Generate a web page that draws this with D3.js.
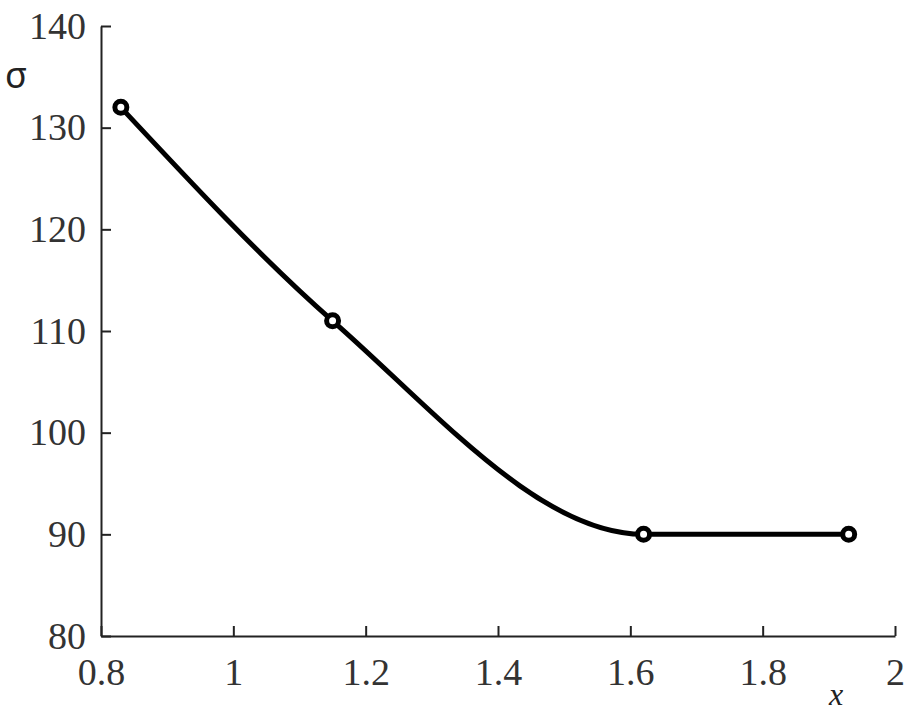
<!DOCTYPE html>
<html>
<head>
<meta charset="utf-8">
<script src="https://cdn.jsdelivr.net/npm/d3@7"></script>
<style>
  body { margin: 0; background: #fff; }
  .domain, .tick line { stroke: #222; stroke-width: 2px; }
</style>
</head>
<body>
<div id="chart"></div>
<script>
const xValues = [0.83, 1.15, 1.62, 1.93];
const sigmaValues = [132, 111, 90, 90];
const xTicks = [0.8, 1, 1.2, 1.4, 1.6, 1.8, 2];
const yTicks = [80, 90, 100, 110, 120, 130, 140];

const width = 917, height = 724;
const margin = { top: 26, right: 22, bottom: 88, left: 101 };
const serif = "'Liberation Serif', 'Times New Roman', Times, serif";

const svg = d3.select("#chart").append("svg")
  .attr("width", width)
  .attr("height", height);

const x = d3.scaleLinear().domain([0.8, 2])
  .range([margin.left, width - margin.right]);
const y = d3.scaleLinear().domain([80, 140])
  .range([height - margin.bottom, margin.top]);

// axes, ticks pointing inward
const xAxis = d3.axisBottom(x)
  .tickValues(xTicks)
  .tickFormat(d => d3.format("")(d))
  .tickSizeInner(-10)
  .tickSizeOuter(0)
  .tickPadding(22);

const yAxis = d3.axisLeft(y)
  .tickValues(yTicks)
  .tickSizeInner(-10)
  .tickSizeOuter(0)
  .tickPadding(15);

svg.append("g")
  .attr("transform", `translate(0, ${height - margin.bottom})`)
  .call(xAxis)
  .selectAll(".tick text")
  .attr("dy", "0.71em");

svg.append("g")
  .attr("transform", `translate(${margin.left}, 0)`)
  .call(yAxis);

svg.selectAll(".tick text")
  .style("font-family", serif)
  .style("font-size", "38px")
  .style("fill", "#333");

// axis titles
svg.append("text")
  .attr("x", 5)
  .attr("y", 88)
  .style("font-family", "'Noto Sans', sans-serif")
  .style("font-size", "36px")
  .style("fill", "#222")
  .text("σ");

svg.append("text")
  .attr("x", 829)
  .attr("y", 705)
  .style("font-family", serif)
  .style("font-style", "italic")
  .style("font-size", "32px")
  .style("fill", "#222")
  .text("x");

const pts = xValues.map((v, i) => [v, sigmaValues[i]]);

const line = d3.line()
  .x(d => x(d[0]))
  .y(d => y(d[1]))
  .curve(d3.curveMonotoneX);

svg.append("path")
  .datum(pts)
  .attr("fill", "none")
  .attr("stroke", "#000")
  .attr("stroke-width", 5)
  .attr("d", line);

svg.selectAll(".pt")
  .data(pts)
  .enter()
  .append("circle")
  .attr("class", "pt")
  .attr("cx", d => x(d[0]))
  .attr("cy", d => y(d[1]))
  .attr("r", 6)
  .attr("fill", "#fff")
  .attr("stroke", "#000")
  .attr("stroke-width", 5);
</script>
</body>
</html>
